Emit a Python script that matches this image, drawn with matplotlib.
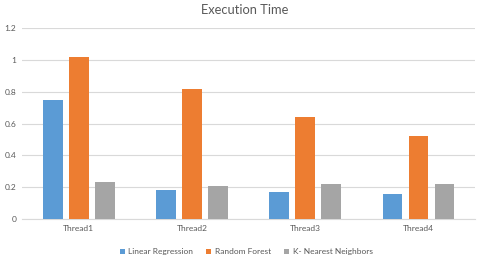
import matplotlib
matplotlib.use("Agg")
import matplotlib.pyplot as plt
import numpy as np

categories = ["Thread1", "Thread2", "Thread3", "Thread4"]
series_names = ["Linear Regression", "Random Forest", "K- Nearest Neighbors"]
linear_regression = [0.75, 0.18, 0.17, 0.16]
random_forest = [1.02, 0.82, 0.64, 0.52]
knn = [0.23, 0.21, 0.22, 0.22]
yticks = [0, 0.2, 0.4, 0.6, 0.8, 1, 1.2]
ytick_labels = ["0", "0.2", "0.4", "0.6", "0.8", "1", "1.2"]

colors = ["#5B9BD5", "#ED7D31", "#A5A5A5"]
txt = "#595959"
plt.rcParams['font.family'] = ['Lato', 'DejaVu Sans']

fig = plt.figure(figsize=(4.79, 2.59), dpi=100)
ax = fig.add_axes([0.046, 0.154, 0.946, 0.738])

x = np.arange(len(categories))
w = 0.175
step = 0.23
for i, (vals, name) in enumerate(zip([linear_regression, random_forest, knn], series_names)):
    ax.bar(x + (i - 1) * step, vals, width=w, color=colors[i], label=name, zorder=3)

ax.set_xlim(-0.5, len(categories) - 0.5)
ax.set_ylim(0, 1.2)
ax.set_yticks(yticks)
ax.set_yticklabels(ytick_labels)
ax.set_xticks(x)
ax.set_xticklabels(categories)
ax.tick_params(axis='both', length=0, labelsize=6, colors=txt, pad=4)
ax.grid(axis='y', color="#D9D9D9", linewidth=0.8, zorder=0)
for s in ["top", "right", "left"]:
    ax.spines[s].set_visible(False)
ax.spines["bottom"].set_color("#D9D9D9")
ax.spines["bottom"].set_linewidth(0.8)

fig.text(0.51, 0.985, "Execution Time", ha="center", va="top", fontsize=9.3, color=txt)

leg = fig.legend(loc="lower center", bbox_to_anchor=(0.514, -0.015), ncol=3, frameon=False,
                 fontsize=6, handlelength=0.6, handleheight=0.6, handletextpad=0.4,
                 columnspacing=1.6)
for t in leg.get_texts():
    t.set_color(txt)

fig.savefig("out.png", dpi=100)
